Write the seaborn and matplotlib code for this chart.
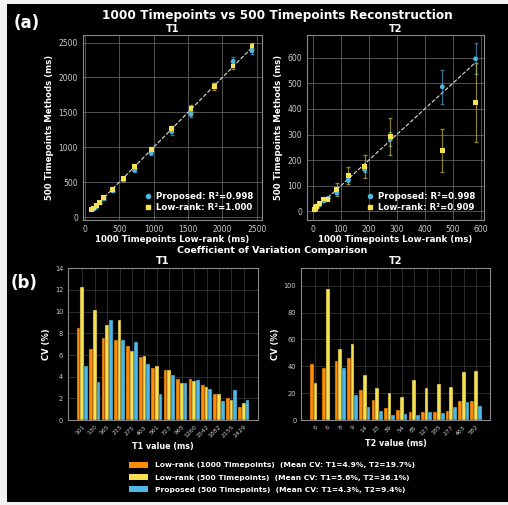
import numpy as np
import pandas as pd
import matplotlib
matplotlib.use("Agg")
import matplotlib.pyplot as plt
import seaborn as sns
from matplotlib.patches import Patch, Rectangle
from matplotlib.lines import Line2D

# reference (1000 timepoints low-rank) values, ms
t1_ref = [101, 130, 165, 215, 275, 403, 561, 723, 965, 1260, 1542, 1882, 2155, 2429]
t2_ref = [6, 6, 8, 9, 14, 23, 39, 54, 85, 127, 185, 277, 463, 582]
t1_labels = ["101", "130", "165", "215", "275", "403", "561", "723", "965", "1260", "1542", "1882", "2155", "2429"]
t2_labels = ["6", "6", "8", "9", "14", "23", "39", "54", "85", "127", "185", "277", "463", "582"]

# 500 timepoint estimates, ms
t1_prop = [105, 115, 150, 210, 270, 375, 535, 670, 915, 1225, 1470, 1890, 2230, 2380]
t1_lr500 = [110, 130, 165, 210, 275, 400, 550, 725, 965, 1265, 1550, 1870, 2165, 2450]
t2_prop = [5, 8, 10, 12, 17, 25, 40, 50, 72, 122, 163, 282, 487, 596]
t2_lr500 = [5, 8, 10, 15, 20, 30, 48, 47, 85, 140, 175, 293, 238, 424]

# coefficient of variation, %
cv_t1_lr1000 = [8.5, 6.6, 7.6, 7.4, 6.8, 5.8, 4.8, 4.6, 3.8, 3.8, 3.2, 2.4, 2.0, 1.2]
cv_t1_lr500 = [12.3, 10.1, 8.8, 9.2, 6.4, 5.9, 5.0, 4.6, 3.4, 3.6, 3.1, 2.4, 1.9, 1.6]
cv_t1_prop = [5.0, 3.5, 9.2, 7.4, 7.2, 5.2, 2.4, 4.2, 3.4, 3.7, 2.9, 1.8, 2.8, 1.9]
cv_t2_lr1000 = [41.4, 39.0, 43.7, 45.9, 22.3, 14.9, 8.7, 7.4, 6.2, 6.0, 6.0, 7.0, 13.9, 13.9]
cv_t2_lr500 = [27.5, 97.8, 52.9, 56.6, 33.5, 23.8, 19.9, 16.9, 29.5, 23.6, 26.6, 24.6, 35.5, 36.5]
cv_t2_prop = [0.0, 0.0, 38.5, 18.4, 9.9, 7.0, 3.5, 4.7, 4.2, 6.0, 5.5, 9.7, 13.6, 10.2]

r2_t1 = ["0.998", "1.000"]
r2_t2 = ["0.998", "0.909"]

ORANGE = "#ff8c00"
YELLOW = "#f5e050"
BLUE = "#4db8e8"

sns.set_style("dark")
plt.rcParams.update({
    "font.family": ["DejaVu Sans"],
    "figure.facecolor": "#f2f2f2",
    "axes.facecolor": "black",
    "axes.edgecolor": "#888888",
    "text.color": "white",
    "axes.labelcolor": "white",
    "xtick.color": "#cccccc",
    "ytick.color": "#cccccc",
})

fig = plt.figure(figsize=(5.08, 5.05), dpi=100)
fig.patches.append(Rectangle((7 / 508, 3 / 505), 1, 498 / 505, transform=fig.transFigure,
                             facecolor="black", edgecolor="none", zorder=-10))

ax1 = fig.add_axes([0.163, 0.564, 0.352, 0.367])
ax2 = fig.add_axes([0.604, 0.564, 0.348, 0.367])
ax3 = fig.add_axes([0.134, 0.168, 0.374, 0.301])
ax4 = fig.add_axes([0.593, 0.168, 0.372, 0.301])


def scatter_panel(ax, ref, prop, lr, cv_prop, cv_lr, r2, title, xlim, ylim, ticks):
    prop_err = np.array(prop) * np.array(cv_prop) / 100
    lr_err = np.array(lr) * np.array(cv_lr) / 100
    ax.errorbar(ref, prop, yerr=prop_err, fmt="none", ecolor=BLUE, alpha=0.6,
                elinewidth=0.9, capsize=1.5, zorder=2)
    ax.errorbar(ref, lr, yerr=lr_err, fmt="none", ecolor=YELLOW, alpha=0.55,
                elinewidth=0.9, capsize=1.5, zorder=2)
    sns.scatterplot(x=ref, y=prop, ax=ax, color=BLUE, marker="o", s=12,
                    edgecolor="none", zorder=3)
    sns.scatterplot(x=ref, y=lr, ax=ax, color=YELLOW, marker="s", s=12,
                    edgecolor="none", zorder=4)
    lo, hi = min(ref), max(ref)
    ax.plot([lo, hi], [lo, hi], ls="--", color="#dddddd", lw=0.8, zorder=1)
    ax.set_xlim(xlim)
    ax.set_ylim(ylim)
    ax.set_xticks(ticks)
    ax.set_yticks(ticks)
    ax.grid(True, color="#777777", lw=0.6, alpha=0.8)
    ax.tick_params(labelsize=5.5, length=2, pad=1.5)
    ax.set_xlabel("1000 Timepoints Low-rank (ms)", fontsize=6.2, fontweight="bold", labelpad=1)
    ax.set_ylabel("500 Timepoints Methods (ms)", fontsize=6.2, fontweight="bold", labelpad=3)
    ax.set_title(title, fontsize=7, fontweight="bold", pad=2)
    handles = [Line2D([], [], marker="o", ls="none", color=BLUE, markersize=3),
               Line2D([], [], marker="s", ls="none", color=YELLOW, markersize=3)]
    leg = ax.legend(handles, [f"Proposed: R\u00b2={r2[0]}", f"Low-rank: R\u00b2={r2[1]}"],
                    loc="lower right", frameon=False, prop={"weight": "bold", "size": 6.2},
                    handletextpad=0.4, labelspacing=0.25, borderaxespad=0.5, handlelength=1.2)
    for t in leg.get_texts():
        t.set_color("white")


scatter_panel(ax1, t1_ref, t1_prop, t1_lr500, cv_t1_prop, cv_t1_lr500, r2_t1, "T1",
              (-30, 2570), (-45, 2610), [0, 500, 1000, 1500, 2000, 2500])
scatter_panel(ax2, t2_ref, t2_prop, t2_lr500, cv_t2_prop, cv_t2_lr500, r2_t2, "T2",
              (-22, 611), (-35, 690), [0, 100, 200, 300, 400, 500, 600])

methods = ["Low-rank (1000 Timepoints)", "Low-rank (500 Timepoints)", "Proposed (500 Timepoints)"]
palette = [ORANGE, YELLOW, BLUE]


def bar_panel(ax, labels, cvs, title, xlabel, ylim, yticks):
    rows = []
    for m, vals in zip(methods, cvs):
        for i, v in enumerate(vals):
            rows.append({"idx": i, "method": m, "cv": v})
    df = pd.DataFrame(rows)
    sns.barplot(data=df, x="idx", y="cv", hue="method", hue_order=methods, palette=palette,
                width=0.9, ax=ax, saturation=1, edgecolor="#222222", linewidth=0.3,
                legend=False, zorder=3)
    ax.set_xlim(-1.15, len(labels) - 1 + 1.15)
    ax.set_ylim(ylim)
    ax.set_yticks(yticks)
    ax.set_xticks(range(len(labels)))
    ax.set_xticklabels(labels, rotation=45, ha="right", rotation_mode="anchor")
    ax.grid(True, color="#333333", lw=0.6)
    ax.set_axisbelow(True)
    ax.tick_params(axis="x", labelsize=4.5, length=2, pad=1)
    ax.tick_params(axis="y", labelsize=4.8, length=2, pad=1.5)
    ax.set_xlabel(xlabel, fontsize=5.8, fontweight="bold", labelpad=2)
    ax.set_ylabel("CV (%)", fontsize=6, fontweight="bold", labelpad=3)
    ax.set_title(title, fontsize=7, fontweight="bold", pad=3)


bar_panel(ax3, t1_labels, [cv_t1_lr1000, cv_t1_lr500, cv_t1_prop], "T1", "T1 value (ms)",
          (0, 14), [0, 2, 4, 6, 8, 10, 12, 14])
bar_panel(ax4, t2_labels, [cv_t2_lr1000, cv_t2_lr500, cv_t2_prop], "T2", "T2 value (ms)",
          (0, 113), [0, 20, 40, 60, 80, 100])

fig.text(0.546, 0.970, "1000 Timepoints vs 500 Timepoints Reconstruction", ha="center", va="center",
         fontsize=8.7, fontweight="bold")
fig.text(0.536, 0.503, "Coefficient of Variation Comparison", ha="center", va="center",
         fontsize=6.8, fontweight="bold")
fig.text(0.053, 0.955, "(a)", ha="center", va="center", fontsize=12, fontweight="bold")
fig.text(0.047, 0.440, "(b)", ha="center", va="center", fontsize=12, fontweight="bold")

t1_means = [np.mean(v) for v in (cv_t1_lr1000, cv_t1_lr500, cv_t1_prop)]
t2_means = [np.mean(v) for v in (cv_t2_lr1000, cv_t2_lr500, cv_t2_prop)]
leg_labels = [f"{m}  (Mean CV: T1={a:.1f}%, T2={b:.1f}%)" for m, a, b in zip(methods, t1_means, t2_means)]
leg_handles = [Patch(facecolor=c, edgecolor="none") for c in palette]
fleg = fig.legend(leg_handles, leg_labels, loc="center", bbox_to_anchor=(0.535, 0.055),
                  frameon=False, prop={"weight": "bold", "size": 5.4}, handlelength=2.6,
                  handleheight=0.9, labelspacing=0.75, handletextpad=0.9)
for t in fleg.get_texts():
    t.set_color("white")

fig.savefig("out.png", dpi=100)
